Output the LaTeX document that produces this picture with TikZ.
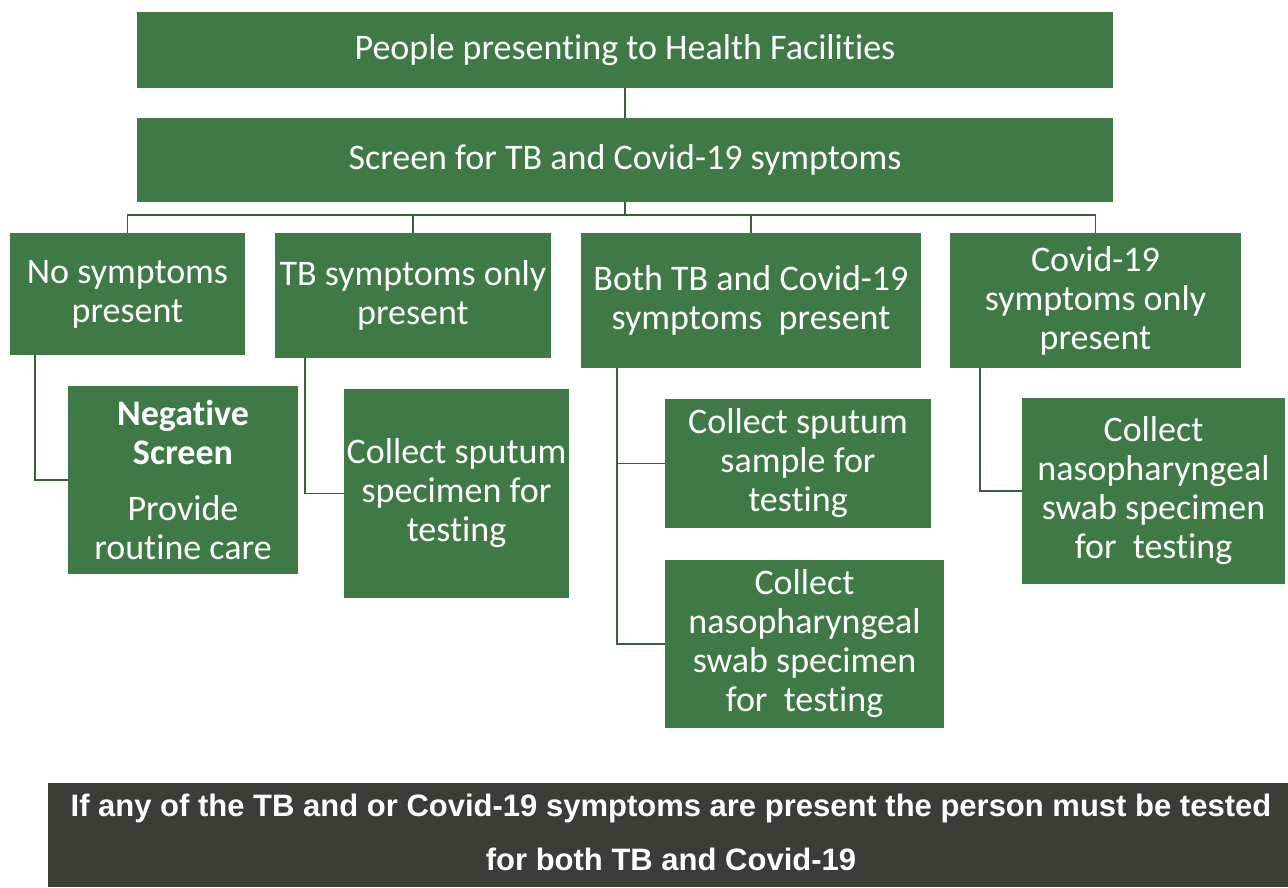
\documentclass[tikz,border=0pt]{standalone}
\usepackage{fontspec}
\setmainfont[Ligatures={NoCommon}]{Carlito}
\newfontfamily\bannerfont{Liberation Sans}
\usetikzlibrary{calc}
\definecolor{boxgreen}{RGB}{63,121,70}
\definecolor{linegreen}{RGB}{58,95,62}
\definecolor{bannergrey}{RGB}{56,61,54}
\begin{document}
\begin{tikzpicture}[x=1pt,y=-1pt]
\tikzset{
 gbox/.style={fill=boxgreen, draw=none, text=white, align=center, inner sep=0pt,
   font=\fontsize{36}{39}\selectfont},
 conn/.style={draw=linegreen, line width=1.8pt},
}
\useasboundingbox[fill=white] (0,0) rectangle (1288,887);

\node[gbox, minimum width=976, minimum height=76] (top) at (625,50) {People presenting to Health Facilities};
\node[gbox, minimum width=976, minimum height=84] (screen) at (625,160) {Screen for TB and Covid-19 symptoms};

\node[gbox, minimum width=235, minimum height=122] (A) at (127.5,294) {No symptoms\\present};
\node[gbox, minimum width=276, minimum height=125] (B) at (413,295.5) {TB symptoms only\\present};
\node[gbox, minimum width=340, minimum height=135] (C) at (751,300.5) {Both TB and Covid-19\\symptoms\ \ present};
\node[gbox, minimum width=291, minimum height=135] (D) at (1095.5,300.5) {Covid-19\\symptoms only\\present};

\node[gbox, minimum width=230, minimum height=188] (A1) at (183,480) {\textbf{Negative}\\\textbf{Screen}\\[17pt]Provide\\routine care};
\node[gbox, minimum width=225, minimum height=209] (B1) at (456.5,493.5) {Collect sputum\\specimen for\\testing};
\node[gbox, minimum width=266, minimum height=129] (C1) at (798,463.5) {Collect sputum\\sample for\\testing};
\node[gbox, minimum width=279, minimum height=168] (C2) at (804.5,644) {Collect\\nasopharyngeal\\swab specimen\\for\ \ testing};
\node[gbox, minimum width=263, minimum height=186] (D1) at (1153.5,491) {Collect\\nasopharyngeal\\swab specimen\\for\ \ testing};

\node[fill=bannergrey, inner sep=0pt, minimum width=1240, minimum height=104] (banner) at (668,835) {};
\node[text=white, align=center, inner sep=0pt,
  font=\bannerfont\bfseries\fontsize{31}{54}\selectfont] (bannertext) at (671,832)
  {If any of the TB and or Covid-19 symptoms are present the person must be tested\\for both TB and Covid-19};

\coordinate (bus) at (625,215);
\draw[conn] (top) -- (screen);
\draw[conn] (screen.south) -- (bus);
\draw[conn] (A.north) |- (bus) -| (D.north);
\draw[conn] (B.north) -- (B.north |- bus);
\draw[conn] (C.north) -- (C.north |- bus);

\draw[conn] ($(A.south west)+(25,0)$) |- (A1.west);
\draw[conn] ($(B.south west)+(30,0)$) |- (B1.west);
\draw[conn] ($(C.south west)+(36,0)$) |- (C1.west);
\draw[conn] ($(C.south west)+(36,0)$) |- (C2.west);
\draw[conn] ($(D.south west)+(30,0)$) |- (D1.west);
\end{tikzpicture}
\end{document}
